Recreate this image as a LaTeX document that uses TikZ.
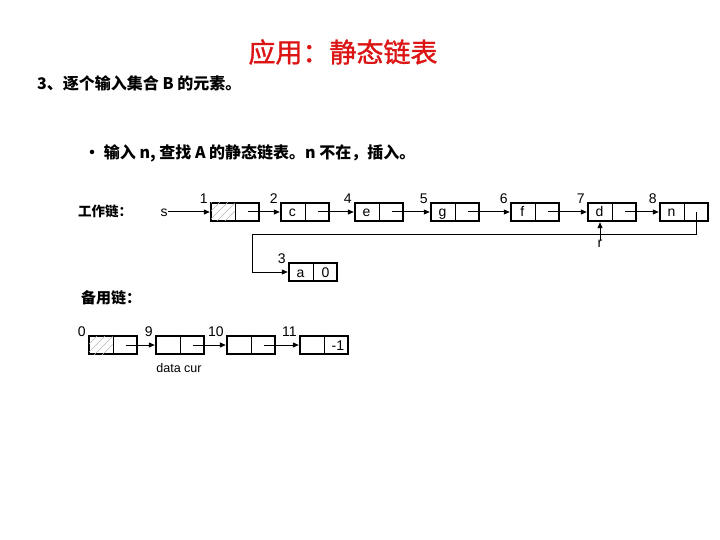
\documentclass[tikz,border=0pt]{standalone}
\usepackage{fontspec}
\setmainfont{Liberation Sans}
\newfontfamily\cjk{Noto Sans CJK SC}
\newfontfamily\cjktitle{Noto Sans CJK SC}[FakeBold=1.2]
\usetikzlibrary{calc,arrows.meta}
\definecolor{titlered}{RGB}{220,20,20}
\definecolor{hatch}{RGB}{185,185,185}
\tikzset{
  cell/.style={draw=black,line width=2.4pt,minimum width=48pt,minimum height=18pt,inner sep=0pt},
  divider/.style={line width=0.9pt},
  celltxt/.style={font=\fontsize{14}{14}\selectfont,inner sep=0pt,text height=10pt,text depth=0pt},
  lbl/.style={font=\fontsize{14}{14}\selectfont,inner sep=0pt},
  ptr/.style={line width=1pt,-{Triangle[length=6pt,width=5pt]}},
}
% note: offsets with explicit pt units are in TeX's y-up orientation
\newcommand{\mkcell}[4]{% name, x, y, label
  \node[cell] (#1) at (#2,#3) {};
  \draw[divider] (#1.north) -- (#1.south);
  \node[lbl,anchor=south east] (#1l) at ($(#1.north west)+(-2pt,-2pt)$) {#4};
}
\newcommand{\hatchleft}[1]{%
  \begin{scope}
    \clip ($(#1.south west)+(1.2pt,1.2pt)$) rectangle ($(#1.north)+(-0.5pt,-1.2pt)$);
    \foreach \k in {0,8,16,24,32} {
      \draw[hatch,line width=0.6pt] ($(#1.south west)+(\k pt-18pt,0pt)$) -- ++(20pt,20pt);
    }
  \end{scope}
}
\begin{document}
\begin{tikzpicture}[x=1pt,y=-1pt]
\useasboundingbox (0,0) rectangle (720,540);
\fill[white] (0,0) rectangle (720,540);

% texts
\node[font=\cjktitle\fontsize{27}{27}\selectfont,text=titlered,inner sep=0pt] (title) at (343,52) {应用：静态链表};
\node[font=\cjk\bfseries\fontsize{16}{16}\selectfont,anchor=west,inner sep=0pt] (line1) at (37,83) {3、逐个输入集合 B 的元素。};
\node[font=\cjk\bfseries\fontsize{16}{16}\selectfont,anchor=west,inner sep=0pt] (line2) at (84,153) {· 输入 n, 查找 A 的静态链表。n 不在，插入。};
\node[font=\cjk\bfseries\fontsize{13.5}{13.5}\selectfont,anchor=west,inner sep=0pt] (work) at (78,211) {工作链：};
\node[font=\cjk\bfseries\fontsize{15}{15}\selectfont,anchor=west,inner sep=0pt] (spare) at (81,298) {备用链：};

% working chain
\node[celltxt] (s) at (164,211) {s};
\mkcell{b1}{235}{212}{1}
\mkcell{b2}{305}{212}{2}
\mkcell{b4}{379}{212}{4}
\mkcell{b5}{455}{212}{5}
\mkcell{b6}{535}{212}{6}
\mkcell{b7}{612}{212}{7}
\mkcell{b8}{684}{212}{8}
\hatchleft{b1}
\node[celltxt] at ($(b2.center)!0.5!(b2.west)$) {c};
\node[celltxt] at ($(b4.center)!0.5!(b4.west)$) {e};
\node[celltxt] at ($(b5.center)!0.5!(b5.west)$) {g};
\node[celltxt] at ($(b6.center)!0.5!(b6.west)$) {f};
\node[celltxt] at ($(b7.center)!0.5!(b7.west)$) {d};
\node[celltxt] at ($(b8.center)!0.5!(b8.west)$) {n};

\draw[ptr] (s.east |- b1.west) -- (b1.west);
\draw[ptr] ($(b1.center)!0.5!(b1.east)$) -- (b2.west);
\draw[ptr] ($(b2.center)!0.5!(b2.east)$) -- (b4.west);
\draw[ptr] ($(b4.center)!0.5!(b4.east)$) -- (b5.west);
\draw[ptr] ($(b5.center)!0.5!(b5.east)$) -- (b6.west);
\draw[ptr] ($(b6.center)!0.5!(b6.east)$) -- (b7.west);
\draw[ptr] ($(b7.center)!0.5!(b7.east)$) -- (b8.west);

% inserted node a
\node[cell] (ba) at (313,272) {};
\draw[divider] (ba.north) -- (ba.south);
\node[lbl,anchor=south east] (bal) at ($(ba.north west)+(-2pt,-2pt)$) {3};
\node[celltxt] at ($(ba.center)!0.5!(ba.west)$) {a};
\node[celltxt] at ($(ba.center)!0.5!(ba.east)$) {0};
\coordinate (n8) at ($(b8.center)!0.5!(b8.east)$);
\coordinate (turnA) at ($(n8)+(0,22)$);
\coordinate (turnB) at (252,234);
\draw[ptr] (n8) -- (turnA) -- (turnB) |- (ba.west);

% r pointer
\node[lbl,anchor=north] (r) at (600,240) {r};
\draw[ptr] (r.north) -- (r.north |- b7.south);

% spare chain
\mkcell{c0}{113}{345}{0}
\mkcell{c9}{180}{345}{9}
\mkcell{c10}{251}{345}{10}
\mkcell{c11}{324}{345}{11}
\hatchleft{c0}
\node[celltxt] at ($(c11.center)!0.55!(c11.east)$) {-1};
\draw[ptr] ($(c0.center)!0.5!(c0.east)$) -- (c9.west);
\draw[ptr] ($(c9.center)!0.5!(c9.east)$) -- (c10.west);
\draw[ptr] ($(c10.center)!0.5!(c10.east)$) -- (c11.west);
\node[font=\fontsize{12.5}{12.5}\selectfont,inner sep=0pt] (dc) at (179,368) {data cur};
\end{tikzpicture}
\end{document}
